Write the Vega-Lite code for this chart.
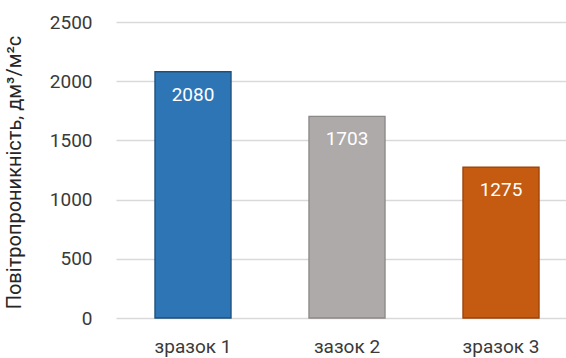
{
  "$schema": "https://vega.github.io/schema/vega-lite/v6.json",
  "width": 450,
  "height": 296,
  "autosize": {"type": "none"},
  "padding": {"left": 116, "top": 22, "right": 0, "bottom": 40},
  "background": "white",
  "config": {"view": {"stroke": null}, "font": "Roboto"},
  "data": {"values": [
    {"sample": "зразок 1", "value": 2080, "fill": "#2E75B6", "stroke": "#1F4E79"},
    {"sample": "зазок 2", "value": 1703, "fill": "#AEAAAA", "stroke": "#8C8888"},
    {"sample": "зразок 3", "value": 1275, "fill": "#C55A11", "stroke": "#9C4208"}
  ]},
  "encoding": {
    "x": {"field": "sample", "type": "nominal", "sort": null,
      "scale": {"range": [0, 462], "paddingInner": 0.506, "paddingOuter": 0.253},
      "axis": {"title": null, "labelAngle": 0, "domain": false, "ticks": false, "labelFontSize": 19, "labelColor": "#3A3A3A", "labelPadding": 19}},
    "y": {"field": "value", "type": "quantitative",
      "scale": {"domain": [0, 2500]},
      "axis": {"values": [0, 500, 1000, 1500, 2000, 2500], "format": "d", "domain": false, "ticks": false, "labelPadding": 24,
        "labelFontSize": 19, "labelColor": "#3A3A3A", "gridColor": "#D9D9D9", "gridWidth": 1.3,
        "title": "Повітропроникність, дм³/м²с", "titleFontSize": 20, "titleFontWeight": "normal", "titleColor": "#262626",
        "titleX": -102, "titleY": 150, "titleAngle": -90, "titleBaseline": "middle", "titleAlign": "center"}}
  },
  "layer": [
    {"mark": {"type": "bar", "strokeWidth": 1.3},
     "encoding": {"fill": {"field": "fill", "type": "nominal", "scale": null}, "stroke": {"field": "stroke", "type": "nominal", "scale": null}}},
    {"mark": {"type": "text", "baseline": "top", "dy": 14, "fontSize": 19, "color": "white"},
     "encoding": {"text": {"field": "value", "type": "quantitative"}}}
  ]
}
